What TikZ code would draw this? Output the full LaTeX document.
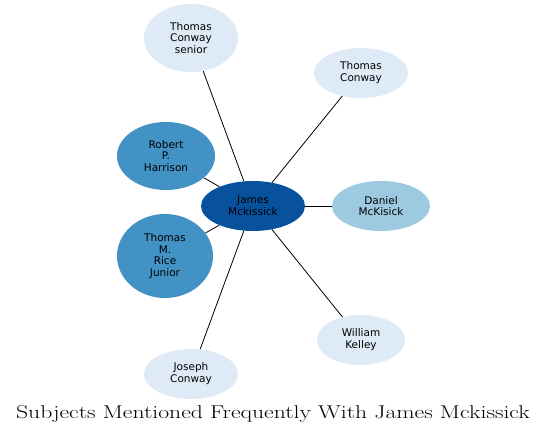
\documentclass[tikz,border=0pt]{standalone}
\usepackage{fontspec}
\usetikzlibrary{shapes.geometric}
\newfontfamily\nodefont{DejaVu Sans}
\definecolor{cLight}{HTML}{DEEBF7}
\definecolor{cMid}{HTML}{9ECAE1}
\definecolor{cStrong}{HTML}{4292C6}
\definecolor{cDark}{HTML}{08519C}
\tikzset{
  person/.style={ellipse, inner sep=0pt, align=center,
    font=\nodefont\fontsize{10.5}{11.8}\selectfont, text=black},
  edge/.style={draw=black, line width=0.8pt}
}
\begin{document}
\begin{tikzpicture}[x=1pt,y=-1pt]
\useasboundingbox (0,0) rectangle (547,435);
\node[person, fill=cDark, minimum width=104pt, minimum height=50pt] (c) at (253,206) {James\\Mckissick};
\node[person, fill=cLight, minimum width=94pt, minimum height=68pt] (tcs) at (191,38) {Thomas\\Conway\\senior};
\node[person, fill=cLight, minimum width=94pt, minimum height=50pt] (tc) at (361,73) {Thomas\\Conway};
\node[person, fill=cStrong, minimum width=98pt, minimum height=68pt] (rph) at (166,156) {Robert\\P.\\Harrison};
\node[person, fill=cMid, minimum width=98pt, minimum height=50pt] (dm) at (381,206) {Daniel\\McKisick};
\node[person, fill=cStrong, minimum width=96pt, minimum height=84pt] (tmr) at (165,256) {Thomas\\M.\\Rice\\Junior};
\node[person, fill=cLight, minimum width=88pt, minimum height=50pt] (wk) at (361,340) {William\\Kelley};
\node[person, fill=cLight, minimum width=94pt, minimum height=50pt] (jc) at (191,374) {Joseph\\Conway};
\foreach \n in {tcs,tc,rph,dm,tmr,wk,jc} { \draw[edge] (c) -- (\n); }
\node[font=\fontsize{18.5}{21}\selectfont, anchor=base, xscale=1.28] (title) at (273,419) {Subjects Mentioned Frequently With James Mckissick};
\end{tikzpicture}
\end{document}
